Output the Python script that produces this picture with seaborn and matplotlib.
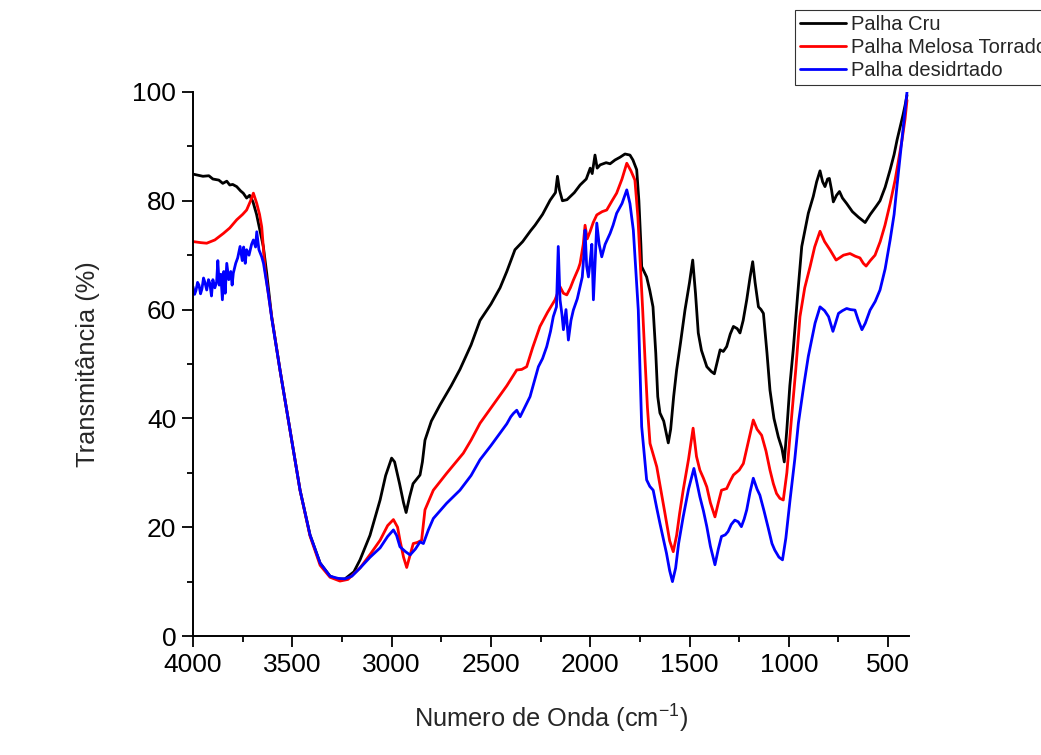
import numpy as np
import pandas as pd
import matplotlib
matplotlib.use("Agg")
import matplotlib.pyplot as plt
from matplotlib.ticker import MultipleLocator
from matplotlib.lines import Line2D
import seaborn as sns

# ---------------- data ----------------
series_names = ["Palha Cru", "Palha Melosa Torrado", "Palha desidrtado"]
series_colors = ["#000000", "#ff0000", "#0000ff"]

cru_w = [4000, 3950, 3920, 3900, 3870, 3850, 3830, 3815, 3800, 3780, 3760, 3747, 3730, 3715, 3698, 3680, 3660, 3646, 3629,
         3604, 3562, 3512, 3461, 3411, 3360, 3310, 3270, 3235, 3190, 3159, 3109, 3058, 3030, 3000, 2985,
         2960, 2940, 2927, 2910, 2892, 2870, 2857, 2845, 2832, 2800, 2756, 2700, 2656, 2600, 2555, 2500,
         2454, 2420, 2379, 2340, 2300, 2278, 2240, 2202, 2175, 2165, 2155, 2140, 2117, 2080, 2051, 2020,
         2000, 1990, 1976, 1965, 1950, 1920, 1900, 1875, 1850, 1825, 1800, 1785, 1766, 1755, 1745, 1741,
         1716, 1700, 1684, 1670, 1660, 1649, 1630, 1607, 1595, 1580, 1565, 1545, 1523, 1500, 1484, 1470,
         1456, 1440, 1413, 1390, 1375, 1360, 1346, 1330, 1313, 1295, 1279, 1260, 1246, 1230, 1212, 1195,
         1182, 1170, 1153, 1140, 1128, 1110, 1095, 1075, 1053, 1035, 1023, 1010, 995, 978, 955, 935,
         902, 877, 860, 843, 830, 818, 805, 796, 785, 776, 760, 745, 730, 709, 680, 650,
         616, 590, 560, 541, 515, 490, 470, 455, 440, 425, 415, 405]
cru_t = [84.9, 84.5, 84.6, 84.0, 83.8, 83.2, 83.6, 82.9, 83.0, 82.6, 81.8, 81.4, 80.5, 81.0, 79.8, 77.5, 74.0, 71.6, 66.7,
         58.7, 48.9, 37.9, 26.8, 18.6, 13.4, 11.0, 10.4, 10.5, 11.8, 14.0, 18.5, 25.0, 29.5, 32.7, 32.0,
         28.0, 24.5, 22.7, 25.5, 28.0, 29.0, 29.6, 32.0, 36.0, 39.5, 42.5, 46.0, 49.0, 53.5, 58.0, 61.0,
         64.0, 67.0, 71.0, 72.5, 74.5, 75.5, 77.5, 80.1, 81.5, 84.5, 82.0, 80.0, 80.2, 81.5, 82.9, 84.0,
         86.0, 85.0, 88.4, 86.0, 86.6, 87.0, 86.8, 87.5, 88.0, 88.6, 88.4, 87.5, 85.7, 80.0, 72.0, 67.9,
         66.0, 63.5, 60.5, 52.0, 44.0, 41.0, 39.5, 35.5, 38.0, 44.0, 48.9, 54.0, 59.9, 65.0, 69.1, 63.0,
         55.7, 52.5, 49.5, 48.6, 48.2, 50.5, 52.6, 52.3, 53.2, 55.5, 56.9, 56.5, 55.7, 58.0, 61.8, 66.0,
         68.8, 65.0, 60.5, 60.0, 59.3, 52.0, 45.2, 40.0, 36.6, 34.5, 32.0, 38.0, 46.0, 52.6, 63.0, 71.6,
         77.7, 80.8, 83.5, 85.5, 83.5, 82.6, 84.0, 84.1, 82.0, 79.8, 81.0, 81.7, 80.5, 79.5, 78.0, 77.0,
         76.0, 77.5, 79.0, 80.0, 82.5, 85.7, 88.5, 91.2, 93.5, 95.8, 97.5, 99.4]

torr_w = [4000, 3960, 3931, 3890, 3847, 3815, 3780, 3750, 3730, 3710, 3696, 3679, 3665, 3654, 3637, 3621,
          3604, 3562, 3512, 3461, 3411, 3360, 3310, 3260, 3220, 3159, 3108, 3058, 3020, 2991, 2970, 2958,
          2940, 2924, 2910, 2891, 2870, 2849, 2832, 2790, 2723, 2639, 2600, 2555, 2471, 2420, 2370, 2345,
          2320, 2290, 2253, 2215, 2177, 2152, 2135, 2118, 2100, 2085, 2060, 2051, 2035, 2026, 2015, 2001,
          1985, 1967, 1940, 1917, 1890, 1867, 1840, 1816, 1795, 1775, 1760, 1749, 1736, 1724, 1712, 1699,
          1680, 1665, 1645, 1624, 1600, 1582, 1565, 1550, 1532, 1505, 1482, 1465, 1448, 1430, 1413, 1395,
          1372, 1355, 1339, 1313, 1295, 1279, 1250, 1229, 1205, 1179, 1160, 1137, 1115, 1095, 1078, 1062,
          1045, 1028, 1010, 986, 965, 944, 920, 893, 870, 843, 820, 793, 762, 745, 725, 692,
          665, 642, 625, 611, 590, 566, 540, 516, 490, 465, 445, 430, 415, 405]
torr_t = [72.5, 72.3, 72.2, 72.8, 74.0, 75.0, 76.5, 77.5, 78.3, 80.0, 81.4, 79.5, 77.5, 75.2, 67.3, 63.0,
          58.7, 48.9, 37.9, 26.8, 18.4, 13.0, 10.8, 10.1, 10.4, 12.5, 15.0, 17.6, 20.3, 21.4, 20.0, 17.6,
          14.5, 12.6, 14.5, 17.0, 17.2, 17.6, 23.2, 26.8, 29.9, 33.6, 36.0, 39.1, 43.4, 46.0, 48.9, 49.0,
          49.5, 53.0, 56.9, 59.5, 61.8, 64.2, 63.0, 62.7, 64.0, 65.4, 67.5, 68.5, 72.0, 75.5, 73.0, 74.3,
          76.0, 77.4, 78.0, 78.3, 80.0, 81.4, 84.0, 86.9, 85.5, 83.8, 77.0, 69.1, 60.0, 50.7, 42.0, 35.4,
          33.0, 31.1, 27.0, 22.6, 17.5, 15.5, 18.5, 22.5, 26.8, 32.5, 38.2, 33.0, 30.5, 29.0, 27.4, 24.5,
          21.9, 24.5, 26.8, 27.1, 28.5, 29.6, 30.5, 31.7, 35.5, 39.7, 38.0, 36.9, 34.0, 30.5, 28.0, 26.2,
          25.3, 25.0, 30.0, 40.3, 49.0, 58.7, 64.0, 67.9, 71.5, 74.4, 72.5, 71.0, 69.1, 69.5, 70.0, 70.3,
          69.8, 69.5, 68.5, 68.0, 69.0, 70.0, 72.5, 75.5, 79.5, 83.8, 88.0, 91.2, 95.0, 98.5]

des_w = [4000, 3992, 3985, 3977, 3970, 3962, 3955, 3947, 3940, 3931, 3922, 3915, 3907, 3900, 3890, 3881,
         3875, 3868, 3860, 3852, 3845, 3838, 3830, 3820, 3810, 3803, 3797, 3785, 3775, 3763, 3752, 3745,
         3737, 3730, 3718, 3705, 3696, 3685, 3679, 3668, 3654, 3645, 3637, 3621, 3604, 3562, 3512, 3461,
         3411, 3360, 3310, 3270, 3235, 3200, 3159, 3108, 3058, 3020, 2991, 2975, 2958, 2930, 2907, 2880,
         2857, 2840, 2815, 2790, 2723, 2656, 2600, 2555, 2500, 2454, 2420, 2400, 2387, 2370, 2353, 2330,
         2303, 2280, 2261, 2240, 2219, 2200, 2186, 2170, 2161, 2155, 2152, 2142, 2135, 2122, 2110, 2097,
         2085, 2065, 2051, 2040, 2032, 2026, 2018, 2009, 2000, 1992, 1984, 1975, 1967, 1955, 1942, 1925,
         1900, 1885, 1867, 1840, 1816, 1800, 1783, 1770, 1758, 1741, 1716, 1700, 1683, 1665, 1649, 1630,
         1616, 1600, 1586, 1570, 1555, 1532, 1505, 1478, 1462, 1448, 1430, 1413, 1395, 1372, 1355, 1339,
         1320, 1306, 1290, 1272, 1255, 1239, 1225, 1212, 1195, 1179, 1160, 1146, 1125, 1104, 1085, 1071,
         1050, 1032, 1015, 994, 970, 952, 925, 902, 885, 868, 843, 820, 800, 778, 765, 750,
         730, 709, 690, 667, 650, 632, 615, 591, 565, 541, 515, 490, 470, 455, 440, 425,
         415, 405]
des_t = [64.2, 62.8, 63.5, 65.0, 64.5, 62.9, 63.8, 65.8, 65.0, 63.6, 65.5, 64.8, 62.5, 65.5, 64.0, 65.1,
         69.0, 64.5, 66.5, 61.8, 67.0, 63.0, 68.5, 65.5, 67.0, 64.5, 66.7, 68.5, 69.5, 71.6, 69.0, 71.5,
         68.5, 71.0, 70.0, 72.0, 72.8, 71.5, 74.3, 71.0, 69.7, 68.5, 66.7, 63.0, 58.5, 48.9, 37.9, 26.8,
         18.6, 13.4, 11.0, 10.6, 10.5, 11.0, 12.5, 14.5, 16.2, 18.3, 19.5, 18.5, 16.4, 15.5, 14.9, 16.0,
         17.3, 17.0, 19.5, 21.6, 24.4, 26.8, 29.5, 32.4, 35.0, 37.3, 39.0, 40.3, 40.9, 41.5, 40.3, 42.0,
         44.0, 47.0, 49.5, 51.0, 53.2, 56.0, 58.7, 60.5, 71.6, 65.0, 61.8, 59.0, 56.3, 60.0, 54.4, 58.0,
         59.9, 62.0, 64.2, 66.0, 70.0, 74.6, 68.0, 66.0, 69.0, 72.0, 61.8, 69.0, 75.9, 72.0, 69.7, 72.0,
         74.0, 75.5, 77.7, 79.5, 82.0, 79.5, 74.6, 67.0, 59.9, 38.5, 28.7, 27.5, 26.8, 23.5, 20.7, 17.5,
         15.2, 12.0, 10.0, 12.5, 17.0, 21.9, 27.0, 30.8, 28.0, 25.6, 23.0, 20.1, 16.5, 13.1, 16.0, 18.3,
         18.6, 19.2, 20.5, 21.3, 21.0, 20.1, 21.5, 23.2, 26.5, 29.0, 27.0, 25.9, 23.0, 19.9, 17.0, 15.8,
         14.5, 14.0, 18.0, 25.0, 32.5, 39.1, 46.0, 51.4, 54.5, 57.5, 60.5, 59.8, 58.7, 56.0, 57.5, 59.3,
         59.8, 60.2, 60.0, 59.9, 58.0, 56.3, 57.5, 59.9, 61.5, 63.6, 67.5, 72.8, 77.5, 82.9, 88.0, 93.0,
         96.5, 100.0]

x_ticks = [4000, 3500, 3000, 2500, 2000, 1500, 1000, 500]
y_ticks = [0, 20, 40, 60, 80, 100]

# ---------------- build long table ----------------
frames = []
for name, w, t in zip(series_names, [cru_w, torr_w, des_w], [cru_t, torr_t, des_t]):
    frames.append(pd.DataFrame({"w": w, "t": t, "s": name}))
df = pd.concat(frames, ignore_index=True)

sns.set_style("ticks")
plt.rcParams["font.family"] = ["Liberation Sans", "DejaVu Sans"]

fig = plt.figure(figsize=(10.41, 7.55), dpi=100)
ax = fig.add_axes([0.1854, 0.1576, 0.6878, 0.7206])

sns.lineplot(data=df, x="w", y="t", hue="s", palette=dict(zip(series_names, series_colors)),
             estimator=None, sort=False, linewidth=2.0, ax=ax, legend=False)

ax.set_xlim(4000, 395)
ax.set_ylim(0, 100)
ax.set_xticks(x_ticks)
ax.set_yticks(y_ticks)
ax.xaxis.set_minor_locator(MultipleLocator(250))
ax.yaxis.set_minor_locator(MultipleLocator(10))
ax.tick_params(which="major", direction="out", length=8, width=1.3, labelsize=19, color="black",
               labelcolor="black", pad=4)
ax.tick_params(which="minor", direction="out", length=4.5, width=1.3, color="black")
for sp in ["top", "right"]:
    ax.spines[sp].set_visible(False)
for sp in ["left", "bottom"]:
    ax.spines[sp].set_linewidth(1.4)
    ax.spines[sp].set_color("black")

ax.set_xlabel("Numero de Onda (cm$^{\\mathregular{-1}}$)", fontsize=18.3)
ax.set_ylabel("Transmitância (%)", fontsize=18.3)
ax.xaxis.set_label_coords(0.5, -0.123)
ax.yaxis.set_label_coords(-0.130, 0.5)

handles = [Line2D([], [], color=c, lw=2.0) for c in series_colors]
leg = fig.legend(handles, series_names, loc="upper left", bbox_to_anchor=(795 / 1041, 1 - 10 / 755),
                 frameon=True, fancybox=False, fontsize=14.5, handlelength=2.3, handletextpad=0.25,
                 labelspacing=0.2, borderpad=0.25, borderaxespad=0.0)
leg.get_frame().set_edgecolor("black")
leg.get_frame().set_linewidth(0.8)

fig.savefig("out.png", dpi=100, facecolor="white")
